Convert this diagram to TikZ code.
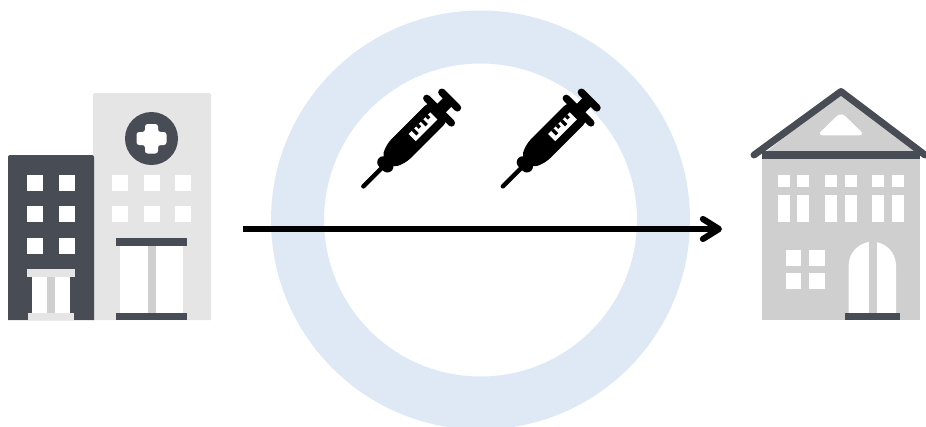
\documentclass[tikz,border=0pt]{standalone}
\usetikzlibrary{arrows.meta}
\definecolor{ringblue}{HTML}{DEE9F5}
\definecolor{slate}{HTML}{474C55}
\definecolor{lightwall}{HTML}{E5E5E5}
\definecolor{midwall}{HTML}{CFCFCF}
\tikzset{
  x=0.75pt,y=-0.75pt,
  win/.style={fill=white},
  syr/.style={fill=black,draw=none},
  syrline/.style={draw=black,line cap=round},
  pics/syringe/.style={code={
    \begin{scope}[rotate=45,x=0.75pt,y=-0.75pt]
      \draw[syrline,line width=3.4pt] (1,0) -- (36,0);
      \draw[syrline,line width=9pt] (32,-3) -- (32,3);
      \fill[syr,rounded corners=6pt] (33,-6) -- (46,-13.5) -- (109,-13.5) -- (109,13.5) -- (46,13.5) -- (33,6) -- cycle;
      \draw[syrline,line width=5.4pt] (108,-17.5) -- (108,17.5);
      \fill[syr] (104,-6) rectangle (123,6);
      \draw[syrline,line width=5.6pt] (123,-11) -- (123,11);
      \fill[win] (70,-5) rectangle (100.5,5);
      \foreach \u/\l in {76/1.5,82.5/-1.5,89/1.5,95.5/-1.5}{\fill[syr] (\u-1.7,-5.2) rectangle (\u+1.7,\l);}
    \end{scope}
  }}
}
\begin{document}
\begin{tikzpicture}
\useasboundingbox (0,0) rectangle (926,426);
\begin{scope}
\clip (0,0) rectangle (926,426);
\fill[ringblue,even odd rule] (480.5,220) circle[radius=156.5] (480.5,220) circle[radius=209.5];
\end{scope}

% hospital, light block
\fill[lightwall] (93,320) [rounded corners=1.5pt] -- (93,93) -- (211,93) [sharp corners] -- (211,320) -- cycle;
\fill[slate] (151.5,138.5) circle[radius=26.5];
\fill[white,rounded corners=2pt] (145,124) -- (158,124) -- (158,132) -- (166.5,132) -- (166.5,145) -- (158,145) -- (158,153.5) -- (145,153.5) -- (145,145) -- (136.5,145) -- (136.5,132) -- (145,132) -- cycle;
\foreach \x in {112.3,144,175}\foreach \y in {175,206}{\fill[win] (\x,\y) rectangle +(16,16);}
\fill[win] (120,246) rectangle (183,313);
\fill[midwall] (148,246) rectangle (156,320);
\fill[slate] (116,238) rectangle (187,246);
\fill[slate] (116,312.5) rectangle (187,320);
% hospital, dark block
\fill[slate] (8,320) [rounded corners=1.5pt] -- (8,155) -- (94,155) [sharp corners] -- (94,320) -- cycle;
\foreach \x in {27,58.7}\foreach \y in {175,206,238}{\fill[win] (\x,\y) rectangle +(16,16);}
\fill[win] (31.7,277) rectangle (70.3,313);
\fill[midwall] (47,277) rectangle (55,320);
\fill[lightwall] (27,269) rectangle (75,277);
\fill[lightwall] (27.7,312.7) rectangle (74.3,320);

% syringes
\path (362.7,187) pic {syringe};
\path (502.2,187) pic {syringe};

% school
\fill[midwall] (762,155) rectangle (920,320);
\fill[midwall] (841,91) -- (765,153) -- (917,153) -- cycle;
\draw[slate,line width=5.2pt,line cap=round,line join=round] (754,155) -- (841,91.5) -- (925,155);
\fill[slate] (762,151) rectangle (920,158.7);
\fill[white,rounded corners=4.5pt] (841,112) -- (865,135.3) -- (817,135.3) -- cycle;
\foreach \x in {777.7,797.3,825,845,872.3,892}{
  \fill[win] (\x,174.7) rectangle +(12,12);
  \fill[win] (\x,195) rectangle (\x+12,222);
}
\foreach \x in {785.7,809.3}\foreach \y in {249.7,273}{\fill[win] (\x,\y) rectangle +(15.7,15.8);}
\fill[win] (848.7,313) -- (848.7,265.4) arc[start angle=180,end angle=360,radius=23.65] -- (896,313) -- cycle;
\fill[midwall] (868.7,241) rectangle (876.7,313);
\fill[slate] (845,312.7) rectangle (900,320);

% arrow
\coordinate (arrowfrom) at (243,229);
\coordinate (arrowto) at (722,229);
\draw[black,line width=4.6pt,-{Straight Barb[length=12pt,width=15pt,round,line width=4.6pt]}] (arrowfrom) -- (arrowto);
\end{tikzpicture}
\end{document}
